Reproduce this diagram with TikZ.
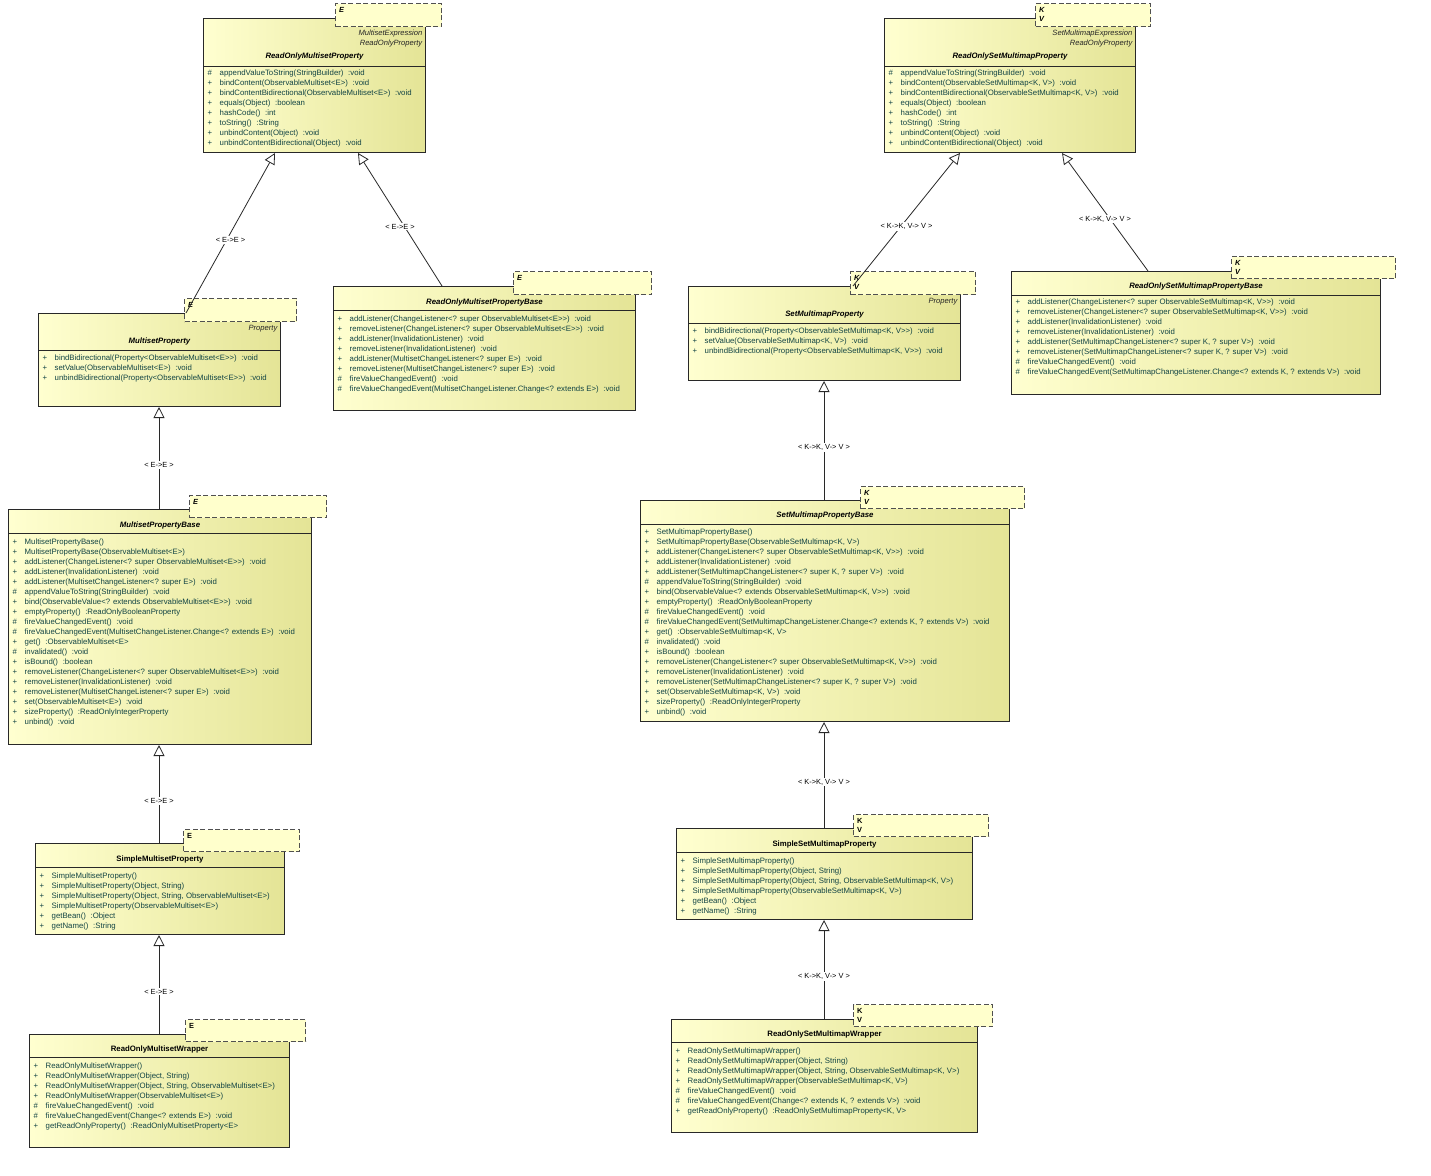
\documentclass[tikz,border=0pt]{standalone}
\usepackage{fontspec}
\setmainfont{Liberation Sans}
\usetikzlibrary{arrows.meta}
\definecolor{boxL}{RGB}{255,255,208}
\definecolor{boxR}{RGB}{228,228,150}
\definecolor{tmplfill}{RGB}{255,255,204}
\definecolor{edgec}{RGB}{40,40,40}
\definecolor{tmpledge}{RGB}{80,80,80}
\definecolor{mtext}{RGB}{18,68,68}
\newcommand\rtgap{\hspace{0.6em}}
\tikzset{
  cls/.style={draw=edgec, line width=1pt, left color=boxL, right color=boxR, anchor=north west, inner sep=0pt},
  tmpl/.style={draw=tmpledge, line width=1.3pt, dash pattern=on 5pt off 2.5pt, fill=tmplfill, anchor=north west, inner sep=0pt},
  tparam/.style={anchor=north west, inner sep=0pt, align=left, font=\fontsize{7.4}{9}\selectfont\bfseries\itshape},
  tparamup/.style={anchor=north west, inner sep=0pt, align=left, font=\fontsize{7.4}{9}\selectfont\bfseries},
  sepline/.style={draw=edgec, line width=1pt},
  ttl/.style={anchor=base, inner sep=0pt, font=\fontsize{7.8}{10}\selectfont\bfseries\itshape},
  ttlup/.style={anchor=base, inner sep=0pt, font=\fontsize{7.8}{10}\selectfont\bfseries},
  iface/.style={anchor=base east, inner sep=0pt, text=black!85, font=\fontsize{7.6}{10}\selectfont\itshape},
  meth/.style={anchor=north west, inner sep=0pt, text=mtext, font=\fontsize{7.8}{10}\selectfont},
  gen/.style={draw=edgec, line width=0.8pt, -{Triangle[open, length=11pt, width=11pt]}},
  lbl/.style={fill=white, inner sep=1pt, text=black, font=\fontsize{7.4}{9}\selectfont, yshift=-7pt}
}
\begin{document}
\begin{tikzpicture}[x=1pt,y=-1pt]
\useasboundingbox[fill=white] (0,0) rectangle (1431,1175);

% ---------------- ReadOnlyMultisetProperty
\node[cls, minimum width=222pt, minimum height=134pt] (rmp) at (203,18) {};
\draw[sepline] ([yshift=-48pt]rmp.north west) -- ([yshift=-48pt]rmp.north east);
\node[iface] (rmpI1) at ([xshift=-3.5pt,yshift=-17.7pt]rmp.north east) {MultisetExpression};
\node[iface] (rmpI2) at ([xshift=-3.5pt,yshift=-27.7pt]rmp.north east) {ReadOnlyProperty};
\node[ttl] (rmpN) at ([yshift=-40.8pt]rmp.north) {ReadOnlyMultisetProperty};
\node[meth] (rmpM) at ([xshift=4.5pt,yshift=-50.7pt]rmp.north west) {\begin{tabular}{@{}p{12pt}@{}l@{}}
\#&appendValueToString(StringBuilder)\rtgap:void\\
+&bindContent(ObservableMultiset<E>)\rtgap:void\\
+&bindContentBidirectional(ObservableMultiset<E>)\rtgap:void\\
+&equals(Object)\rtgap:boolean\\
+&hashCode()\rtgap:int\\
+&toString()\rtgap:String\\
+&unbindContent(Object)\rtgap:void\\
+&unbindContentBidirectional(Object)\rtgap:void
\end{tabular}};
\node[tmpl, minimum width=106pt, minimum height=23pt] (rmpT) at (335,3) {};
\node[tparam] (rmpP) at ([xshift=4pt,yshift=-4.3pt]rmpT.north west) {E};

% ---------------- ReadOnlySetMultimapProperty
\node[cls, minimum width=251pt, minimum height=134pt] (rosm) at (884,18) {};
\draw[sepline] ([yshift=-48pt]rosm.north west) -- ([yshift=-48pt]rosm.north east);
\node[iface] (rosmI1) at ([xshift=-3.5pt,yshift=-17.7pt]rosm.north east) {SetMultimapExpression};
\node[iface] (rosmI2) at ([xshift=-3.5pt,yshift=-27.7pt]rosm.north east) {ReadOnlyProperty};
\node[ttl] (rosmN) at ([yshift=-40.8pt]rosm.north) {ReadOnlySetMultimapProperty};
\node[meth] (rosmM) at ([xshift=4.5pt,yshift=-50.7pt]rosm.north west) {\begin{tabular}{@{}p{12pt}@{}l@{}}
\#&appendValueToString(StringBuilder)\rtgap:void\\
+&bindContent(ObservableSetMultimap<K, V>)\rtgap:void\\
+&bindContentBidirectional(ObservableSetMultimap<K, V>)\rtgap:void\\
+&equals(Object)\rtgap:boolean\\
+&hashCode()\rtgap:int\\
+&toString()\rtgap:String\\
+&unbindContent(Object)\rtgap:void\\
+&unbindContentBidirectional(Object)\rtgap:void
\end{tabular}};
\node[tmpl, minimum width=115pt, minimum height=23pt] (rosmT) at (1035,3) {};
\node[tparam] (rosmP) at ([xshift=4pt,yshift=-3.8pt]rosmT.north west) {K\\V};

% ---------------- MultisetProperty
\node[cls, minimum width=242pt, minimum height=93pt] (mp) at (38,313) {};
\draw[sepline] ([yshift=-37.5pt]mp.north west) -- ([yshift=-37.5pt]mp.north east);
\node[iface] (mpI1) at ([xshift=-3.5pt,yshift=-17.7pt]mp.north east) {Property};
\node[ttl] (mpN) at ([yshift=-30.8pt]mp.north) {MultisetProperty};
\node[meth] (mpM) at ([xshift=4.5pt,yshift=-40.7pt]mp.north west) {\begin{tabular}{@{}p{12pt}@{}l@{}}
+&bindBidirectional(Property<ObservableMultiset<E>{}>)\rtgap:void\\
+&setValue(ObservableMultiset<E>)\rtgap:void\\
+&unbindBidirectional(Property<ObservableMultiset<E>{}>)\rtgap:void
\end{tabular}};
\node[tmpl, minimum width=112pt, minimum height=23pt] (mpT) at (184,298) {};
\node[tparam] (mpP) at ([xshift=4pt,yshift=-4.3pt]mpT.north west) {E};

% ---------------- ReadOnlyMultisetPropertyBase
\node[cls, minimum width=302pt, minimum height=124pt] (romb) at (333,286) {};
\draw[sepline] ([yshift=-24.5pt]romb.north west) -- ([yshift=-24.5pt]romb.north east);
\node[ttl] (rombN) at ([yshift=-18.3pt]romb.north) {ReadOnlyMultisetPropertyBase};
\node[meth] (rombM) at ([xshift=4.5pt,yshift=-28.2pt]romb.north west) {\begin{tabular}{@{}p{12pt}@{}l@{}}
+&addListener(ChangeListener<? super ObservableMultiset<E>{}>)\rtgap:void\\
+&removeListener(ChangeListener<? super ObservableMultiset<E>{}>)\rtgap:void\\
+&addListener(InvalidationListener)\rtgap:void\\
+&removeListener(InvalidationListener)\rtgap:void\\
+&addListener(MultisetChangeListener<? super E>)\rtgap:void\\
+&removeListener(MultisetChangeListener<? super E>)\rtgap:void\\
\#&fireValueChangedEvent()\rtgap:void\\
\#&fireValueChangedEvent(MultisetChangeListener.Change<? extends E>)\rtgap:void
\end{tabular}};
\node[tmpl, minimum width=138pt, minimum height=23pt] (rombT) at (513,271) {};
\node[tparam] (rombP) at ([xshift=4pt,yshift=-4.3pt]rombT.north west) {E};

% ---------------- SetMultimapProperty
\node[cls, minimum width=272pt, minimum height=94pt] (smp) at (688,286) {};
\draw[sepline] ([yshift=-37.5pt]smp.north west) -- ([yshift=-37.5pt]smp.north east);
\node[iface] (smpI1) at ([xshift=-3.5pt,yshift=-17.2pt]smp.north east) {Property};
\node[ttl] (smpN) at ([yshift=-30.8pt]smp.north) {SetMultimapProperty};
\node[meth] (smpM) at ([xshift=4.5pt,yshift=-40.7pt]smp.north west) {\begin{tabular}{@{}p{12pt}@{}l@{}}
+&bindBidirectional(Property<ObservableSetMultimap<K, V>{}>)\rtgap:void\\
+&setValue(ObservableSetMultimap<K, V>)\rtgap:void\\
+&unbindBidirectional(Property<ObservableSetMultimap<K, V>{}>)\rtgap:void
\end{tabular}};
\node[tmpl, minimum width=125pt, minimum height=23pt] (smpT) at (850,271) {};
\node[tparam] (smpP) at ([xshift=4pt,yshift=-3.8pt]smpT.north west) {K\\V};

% ---------------- ReadOnlySetMultimapPropertyBase
\node[cls, minimum width=369pt, minimum height=123pt] (rosmb) at (1011,271) {};
\draw[sepline] ([yshift=-24pt]rosmb.north west) -- ([yshift=-24pt]rosmb.north east);
\node[ttl] (rosmbN) at ([yshift=-17.8pt]rosmb.north) {ReadOnlySetMultimapPropertyBase};
\node[meth] (rosmbM) at ([xshift=4.5pt,yshift=-26.7pt]rosmb.north west) {\begin{tabular}{@{}p{12pt}@{}l@{}}
+&addListener(ChangeListener<? super ObservableSetMultimap<K, V>{}>)\rtgap:void\\
+&removeListener(ChangeListener<? super ObservableSetMultimap<K, V>{}>)\rtgap:void\\
+&addListener(InvalidationListener)\rtgap:void\\
+&removeListener(InvalidationListener)\rtgap:void\\
+&addListener(SetMultimapChangeListener<? super K, ? super V>)\rtgap:void\\
+&removeListener(SetMultimapChangeListener<? super K, ? super V>)\rtgap:void\\
\#&fireValueChangedEvent()\rtgap:void\\
\#&fireValueChangedEvent(SetMultimapChangeListener.Change<? extends K, ? extends V>)\rtgap:void
\end{tabular}};
\node[tmpl, minimum width=164pt, minimum height=22pt] (rosmbT) at (1231,256) {};
\node[tparam] (rosmbP) at ([xshift=4pt,yshift=-3.8pt]rosmbT.north west) {K\\V};

% ---------------- MultisetPropertyBase
\node[cls, minimum width=303pt, minimum height=235pt] (mpb) at (8,509) {};
\draw[sepline] ([yshift=-24.5pt]mpb.north west) -- ([yshift=-24.5pt]mpb.north east);
\node[ttl] (mpbN) at ([yshift=-18.3pt]mpb.north) {MultisetPropertyBase};
\node[meth] (mpbM) at ([xshift=4.5pt,yshift=-28.5pt]mpb.north west) {\begin{tabular}{@{}p{12pt}@{}l@{}}
+&MultisetPropertyBase()\\
+&MultisetPropertyBase(ObservableMultiset<E>)\\
+&addListener(ChangeListener<? super ObservableMultiset<E>{}>)\rtgap:void\\
+&addListener(InvalidationListener)\rtgap:void\\
+&addListener(MultisetChangeListener<? super E>)\rtgap:void\\
\#&appendValueToString(StringBuilder)\rtgap:void\\
+&bind(ObservableValue<? extends ObservableMultiset<E>{}>)\rtgap:void\\
+&emptyProperty()\rtgap:ReadOnlyBooleanProperty\\
\#&fireValueChangedEvent()\rtgap:void\\
\#&fireValueChangedEvent(MultisetChangeListener.Change<? extends E>)\rtgap:void\\
+&get()\rtgap:ObservableMultiset<E>\\
\#&invalidated()\rtgap:void\\
+&isBound()\rtgap:boolean\\
+&removeListener(ChangeListener<? super ObservableMultiset<E>{}>)\rtgap:void\\
+&removeListener(InvalidationListener)\rtgap:void\\
+&removeListener(MultisetChangeListener<? super E>)\rtgap:void\\
+&set(ObservableMultiset<E>)\rtgap:void\\
+&sizeProperty()\rtgap:ReadOnlyIntegerProperty\\
+&unbind()\rtgap:void
\end{tabular}};
\node[tmpl, minimum width=137pt, minimum height=22pt] (mpbT) at (189,495) {};
\node[tparam] (mpbP) at ([xshift=4pt,yshift=-4.3pt]mpbT.north west) {E};

% ---------------- SetMultimapPropertyBase
\node[cls, minimum width=369pt, minimum height=221pt] (smpb) at (640,500) {};
\draw[sepline] ([yshift=-24pt]smpb.north west) -- ([yshift=-24pt]smpb.north east);
\node[ttl] (smpbN) at ([yshift=-17.8pt]smpb.north) {SetMultimapPropertyBase};
\node[meth] (smpbM) at ([xshift=4.5pt,yshift=-27.7pt]smpb.north west) {\begin{tabular}{@{}p{12pt}@{}l@{}}
+&SetMultimapPropertyBase()\\
+&SetMultimapPropertyBase(ObservableSetMultimap<K, V>)\\
+&addListener(ChangeListener<? super ObservableSetMultimap<K, V>{}>)\rtgap:void\\
+&addListener(InvalidationListener)\rtgap:void\\
+&addListener(SetMultimapChangeListener<? super K, ? super V>)\rtgap:void\\
\#&appendValueToString(StringBuilder)\rtgap:void\\
+&bind(ObservableValue<? extends ObservableSetMultimap<K, V>{}>)\rtgap:void\\
+&emptyProperty()\rtgap:ReadOnlyBooleanProperty\\
\#&fireValueChangedEvent()\rtgap:void\\
\#&fireValueChangedEvent(SetMultimapChangeListener.Change<? extends K, ? extends V>)\rtgap:void\\
+&get()\rtgap:ObservableSetMultimap<K, V>\\
\#&invalidated()\rtgap:void\\
+&isBound()\rtgap:boolean\\
+&removeListener(ChangeListener<? super ObservableSetMultimap<K, V>{}>)\rtgap:void\\
+&removeListener(InvalidationListener)\rtgap:void\\
+&removeListener(SetMultimapChangeListener<? super K, ? super V>)\rtgap:void\\
+&set(ObservableSetMultimap<K, V>)\rtgap:void\\
+&sizeProperty()\rtgap:ReadOnlyIntegerProperty\\
+&unbind()\rtgap:void
\end{tabular}};
\node[tmpl, minimum width=164pt, minimum height=22pt] (smpbT) at (860,486) {};
\node[tparam] (smpbP) at ([xshift=4pt,yshift=-3.8pt]smpbT.north west) {K\\V};

% ---------------- SimpleMultisetProperty
\node[cls, minimum width=249pt, minimum height=91pt] (smsp) at (35,843) {};
\draw[sepline] ([yshift=-24.5pt]smsp.north west) -- ([yshift=-24.5pt]smsp.north east);
\node[ttlup] (smspN) at ([yshift=-18.3pt]smsp.north) {SimpleMultisetProperty};
\node[meth] (smspM) at ([xshift=4.5pt,yshift=-28.7pt]smsp.north west) {\begin{tabular}{@{}p{12pt}@{}l@{}}
+&SimpleMultisetProperty()\\
+&SimpleMultisetProperty(Object, String)\\
+&SimpleMultisetProperty(Object, String, ObservableMultiset<E>)\\
+&SimpleMultisetProperty(ObservableMultiset<E>)\\
+&getBean()\rtgap:Object\\
+&getName()\rtgap:String
\end{tabular}};
\node[tmpl, minimum width=116pt, minimum height=22pt] (smspT) at (183,829) {};
\node[tparamup] (smspP) at ([xshift=4pt,yshift=-4.3pt]smspT.north west) {E};

% ---------------- SimpleSetMultimapProperty
\node[cls, minimum width=296pt, minimum height=91pt] (ssmp) at (676,828) {};
\draw[sepline] ([yshift=-24.5pt]ssmp.north west) -- ([yshift=-24.5pt]ssmp.north east);
\node[ttlup] (ssmpN) at ([yshift=-18.3pt]ssmp.north) {SimpleSetMultimapProperty};
\node[meth] (ssmpM) at ([xshift=4.5pt,yshift=-28.2pt]ssmp.north west) {\begin{tabular}{@{}p{12pt}@{}l@{}}
+&SimpleSetMultimapProperty()\\
+&SimpleSetMultimapProperty(Object, String)\\
+&SimpleSetMultimapProperty(Object, String, ObservableSetMultimap<K, V>)\\
+&SimpleSetMultimapProperty(ObservableSetMultimap<K, V>)\\
+&getBean()\rtgap:Object\\
+&getName()\rtgap:String
\end{tabular}};
\node[tmpl, minimum width=135pt, minimum height=22pt] (ssmpT) at (853,814) {};
\node[tparamup] (ssmpP) at ([xshift=4pt,yshift=-3.8pt]ssmpT.north west) {K\\V};

% ---------------- ReadOnlyMultisetWrapper
\node[cls, minimum width=260pt, minimum height=113pt] (romw) at (29,1034) {};
\draw[sepline] ([yshift=-23.5pt]romw.north west) -- ([yshift=-23.5pt]romw.north east);
\node[ttlup] (romwN) at ([yshift=-17.8pt]romw.north) {ReadOnlyMultisetWrapper};
\node[meth] (romwM) at ([xshift=4.5pt,yshift=-27.7pt]romw.north west) {\begin{tabular}{@{}p{12pt}@{}l@{}}
+&ReadOnlyMultisetWrapper()\\
+&ReadOnlyMultisetWrapper(Object, String)\\
+&ReadOnlyMultisetWrapper(Object, String, ObservableMultiset<E>)\\
+&ReadOnlyMultisetWrapper(ObservableMultiset<E>)\\
\#&fireValueChangedEvent()\rtgap:void\\
\#&fireValueChangedEvent(Change<? extends E>)\rtgap:void\\
+&getReadOnlyProperty()\rtgap:ReadOnlyMultisetProperty<E>
\end{tabular}};
\node[tmpl, minimum width=120pt, minimum height=22pt] (romwT) at (185,1019) {};
\node[tparamup] (romwP) at ([xshift=4pt,yshift=-4.3pt]romwT.north west) {E};

% ---------------- ReadOnlySetMultimapWrapper
\node[cls, minimum width=306pt, minimum height=113pt] (rosmw) at (671,1019) {};
\draw[sepline] ([yshift=-23.5pt]rosmw.north west) -- ([yshift=-23.5pt]rosmw.north east);
\node[ttlup] (rosmwN) at ([yshift=-17.8pt]rosmw.north) {ReadOnlySetMultimapWrapper};
\node[meth] (rosmwM) at ([xshift=4.5pt,yshift=-27.7pt]rosmw.north west) {\begin{tabular}{@{}p{12pt}@{}l@{}}
+&ReadOnlySetMultimapWrapper()\\
+&ReadOnlySetMultimapWrapper(Object, String)\\
+&ReadOnlySetMultimapWrapper(Object, String, ObservableSetMultimap<K, V>)\\
+&ReadOnlySetMultimapWrapper(ObservableSetMultimap<K, V>)\\
\#&fireValueChangedEvent()\rtgap:void\\
\#&fireValueChangedEvent(Change<? extends K, ? extends V>)\rtgap:void\\
+&getReadOnlyProperty()\rtgap:ReadOnlySetMultimapProperty<K, V>
\end{tabular}};
\node[tmpl, minimum width=139pt, minimum height=22pt] (rosmwT) at (853,1004) {};
\node[tparamup] (rosmwP) at ([xshift=4pt,yshift=-3.8pt]rosmwT.north west) {K\\V};

% ---------------- generalizations
\draw[gen] ([xshift=148pt]mp.north west) -- node[lbl, pos=0.5] {< E->E >} ([xshift=72pt]rmp.south west);
\draw[gen] ([xshift=109pt]romb.north west) -- node[lbl, pos=0.5] {< E->E >} ([xshift=155pt]rmp.south west);
\draw[gen] ([xshift=151pt]mpb.north west) -- node[lbl, pos=0.5] {< E->E >} ([xshift=121pt]mp.south west);
\draw[gen] ([xshift=124pt]smsp.north west) -- node[lbl, pos=0.5] {< E->E >} ([xshift=151pt]mpb.south west);
\draw[gen] ([xshift=130pt]romw.north west) -- node[lbl, pos=0.5] {< E->E >} ([xshift=124pt]smsp.south west);
\draw[gen] ([xshift=165pt]smp.north west) -- node[lbl, pos=0.5] {< K->K, V-> V >} ([xshift=76pt]rosm.south west);
\draw[gen] ([xshift=137pt]rosmb.north west) -- node[lbl, pos=0.5] {< K->K, V-> V >} ([xshift=178pt]rosm.south west);
\draw[gen] ([xshift=184pt]smpb.north west) -- node[lbl, pos=0.5] {< K->K, V-> V >} ([xshift=136pt]smp.south west);
\draw[gen] ([xshift=148pt]ssmp.north west) -- node[lbl, pos=0.5] {< K->K, V-> V >} ([xshift=184pt]smpb.south west);
\draw[gen] ([xshift=153pt]rosmw.north west) -- node[lbl, pos=0.5] {< K->K, V-> V >} ([xshift=148pt]ssmp.south west);
\end{tikzpicture}
\end{document}
